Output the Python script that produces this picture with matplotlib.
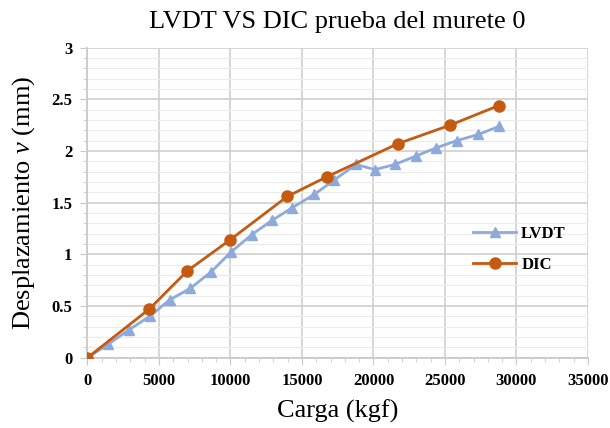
import matplotlib
matplotlib.use("Agg")
import matplotlib.pyplot as plt
from matplotlib.ticker import MultipleLocator

# datos
lvdt_carga = [0, 1450, 2900, 4350, 5750, 7180, 8640, 10020, 11480, 12920, 14300,
              15860, 17260, 18780, 20100, 21500, 22950, 24370, 25820, 27330, 28800]
lvdt_desp = [0, 0.13, 0.27, 0.40, 0.56, 0.67, 0.83, 1.02, 1.19, 1.33, 1.45,
             1.58, 1.72, 1.87, 1.82, 1.87, 1.95, 2.03, 2.10, 2.16, 2.24]
dic_carga = [0, 4320, 6980, 9970, 13970, 16730, 21690, 25350, 28760]
dic_desp = [0, 0.47, 0.84, 1.14, 1.56, 1.75, 2.07, 2.25, 2.44]

plt.rcParams['font.family'] = ['Liberation Serif', 'DejaVu Serif']
plt.rcParams['mathtext.fontset'] = 'custom'
plt.rcParams['mathtext.rm'] = 'Liberation Serif'
plt.rcParams['mathtext.it'] = 'Liberation Serif:italic'

fig = plt.figure(figsize=(6.1, 4.28), dpi=100)
ax = fig.add_axes([0.1434, 0.1643, 0.8205, 0.7243])

ax.plot(lvdt_carga, lvdt_desp, color='#8eaadb', marker='^', markersize=7.5,
        linewidth=2, label='LVDT', zorder=3)
ax.plot(dic_carga, dic_desp, color='#c55a11', marker='o', markersize=8,
        linewidth=2, label='DIC', zorder=4)

ax.set_xlim(0, 35000)
ax.set_ylim(0, 3)
ax.xaxis.set_major_locator(MultipleLocator(5000))
ax.xaxis.set_minor_locator(MultipleLocator(1000))
ax.yaxis.set_major_locator(MultipleLocator(0.5))
ax.yaxis.set_minor_locator(MultipleLocator(0.1))
ax.set_yticks([0, 0.5, 1, 1.5, 2, 2.5, 3])
ax.set_yticklabels(['0', '0.5', '1', '1.5', '2', '2.5', '3'])

ax.grid(which='major', color='#d0d0d0', linewidth=1.2)
ax.grid(which='minor', axis='y', color='#ececec', linewidth=0.8)
ax.set_axisbelow(True)

for s in ['top', 'right']:
    ax.spines[s].set_visible(False)
for s in ['left', 'bottom']:
    ax.spines[s].set_color('#c8c8c8')
    ax.spines[s].set_linewidth(1.2)

ax.tick_params(which='both', color='#c8c8c8', direction='out')
ax.tick_params(which='major', length=5, labelsize=12, pad=6)
ax.tick_params(which='minor', length=3)
for lab in ax.get_xticklabels() + ax.get_yticklabels():
    lab.set_fontweight('bold')

ax.set_title('LVDT VS DIC prueba del murete 0', fontsize=19, pad=14)
ax.set_xlabel('Carga (kgf)', fontsize=19, labelpad=8)
ax.set_ylabel(r'Desplazamiento $\mathit{v}$ (mm)', fontsize=19, labelpad=10)

ax.legend(loc='center left', bbox_to_anchor=(0.74, 0.35), frameon=False,
          prop={'weight': 'bold', 'size': 12}, handlelength=2.6,
          labelspacing=0.9, handletextpad=0.3)

fig.savefig('out.png', dpi=100)
